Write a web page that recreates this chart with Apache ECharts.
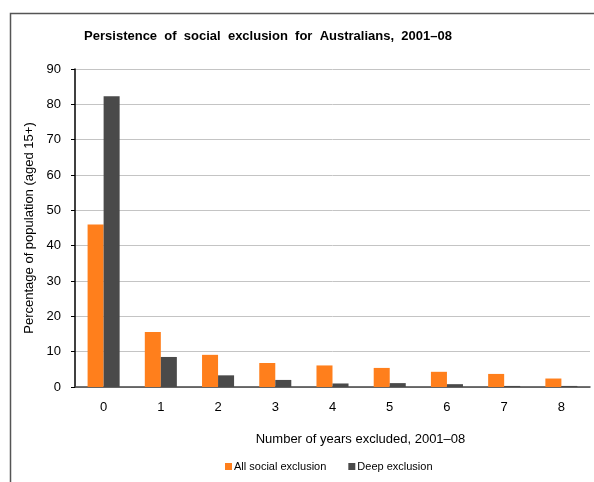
<!DOCTYPE html>
<html>
<head>
<meta charset="utf-8">
<script src="https://cdn.jsdelivr.net/npm/echarts@6/dist/echarts.min.js"></script>
<style>html,body{margin:0;padding:0;background:#fff}#c{width:594px;height:482px}</style>
</head>
<body>
<div id="c"></div>
<script>
const categories = ['0','1','2','3','4','5','6','7','8'];
const allSocial = [46.0, 15.6, 9.1, 6.8, 6.1, 5.4, 4.3, 3.7, 2.4];
const deepExcl = [82.3, 8.5, 3.3, 2.0, 1.0, 1.1, 0.8, 0.3, 0.3];
const seriesNames = ['All social exclusion', 'Deep exclusion'];

const font = 'Liberation Sans, Arial, sans-serif';
const chart = echarts.init(document.getElementById('c'), null, {renderer: 'canvas'});
chart.setOption({
  animation: false,
  backgroundColor: '#fff',
  textStyle: {fontFamily: font},
  title: {
    text: 'Persistence  of  social  exclusion  for  Australians,  2001–08',
    left: 263, top: 25, textAlign: 'center',
    textStyle: {fontFamily: font, fontSize: 13, fontWeight: 'bold', color: '#000'}
  },
  graphic: [{
    type: 'rect', left: 8, top: 11, shape: {width: 620, height: 520},
    style: {fill: 'none', stroke: '#555', lineWidth: 1.5}, silent: true
  }],
  legend: {
    data: seriesNames,
    left: 220, top: 456, itemWidth: 7, itemHeight: 7, itemGap: 22,
    icon: 'rect',
    textStyle: {fontFamily: font, fontSize: 11, color: '#000', padding: [0,0,0,-3]}
  },
  grid: {left: 75, right: 4, top: 69, bottom: 95, containLabel: false},
  xAxis: {
    type: 'category', data: categories,
    name: 'Number of years excluded, 2001–08',
    nameLocation: 'middle', nameGap: 46,
    nameTextStyle: {fontFamily: font, fontSize: 13, color: '#000', padding: [0,0,0,56]},
    axisLine: {lineStyle: {color: '#444', width: 1.5}},
    axisTick: {show: false},
    axisLabel: {fontFamily: font, fontSize: 13, color: '#000', margin: 14}
  },
  yAxis: {
    type: 'value', min: 0, max: 90, interval: 10,
    name: 'Percentage of population (aged 15+)',
    nameLocation: 'middle', nameGap: 38,
    nameTextStyle: {fontFamily: font, fontSize: 13, color: '#000'},
    axisLine: {show: true, lineStyle: {color: '#000', width: 1.5}},
    axisTick: {show: true, length: 4, inside: false, lineStyle: {color: '#000'}},
    axisLabel: {fontFamily: font, fontSize: 13, color: '#000', margin: 14},
    splitLine: {lineStyle: {color: '#c4c4c4', width: 1}}
  },
  series: [
    {name: seriesNames[0], type: 'bar', data: allSocial, barGap: '0%', barCategoryGap: '44%',
     itemStyle: {color: '#FF7F1C'}},
    {name: seriesNames[1], type: 'bar', data: deepExcl, barGap: '0%', barCategoryGap: '44%',
     itemStyle: {color: '#4A4A4A'}}
  ]
});
</script>
</body>
</html>
